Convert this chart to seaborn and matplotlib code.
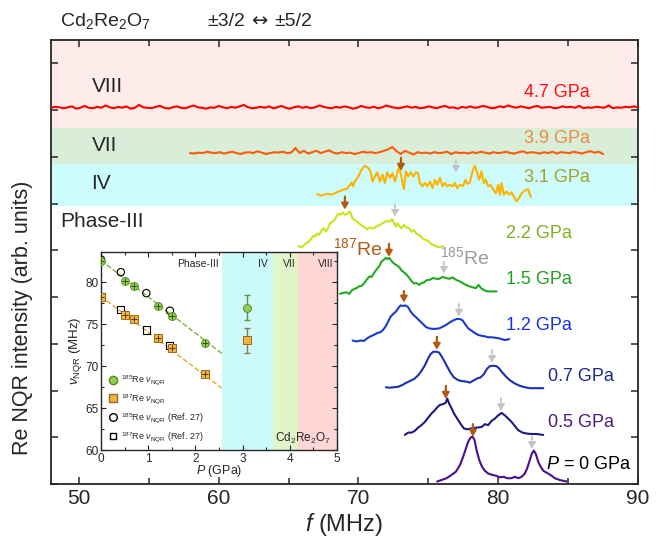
import numpy as np
import matplotlib
matplotlib.use("Agg")
import matplotlib.pyplot as plt
from matplotlib.lines import Line2D
from matplotlib.ticker import MultipleLocator
import seaborn as sns

# style first, fonts after (set_style resets font.family)
sns.set_style("ticks")
plt.rcParams["font.family"] = ["Liberation Sans", "DejaVu Sans"]
plt.rcParams["mathtext.fontset"] = "custom"
plt.rcParams["mathtext.rm"] = "Liberation Sans"
plt.rcParams["mathtext.it"] = "Liberation Sans:italic"

# ---------------- spectra (f in MHz, intensity relative to each baseline) ----------------
p47_f_range = (48.0, 90.0)
p47_int = [0.00, 0.02, 0.01, -0.01, 0.01, 0.03, -0.02, 0.00, 0.04, 0.00,
           -0.01, 0.02, 0.00, 0.05, 0.01, -0.01, 0.02, 0.00, 0.03, -0.02,
           0.00, 0.06, 0.01, 0.00, -0.01, 0.02, 0.04, 0.00, -0.02, 0.01,
           0.03, 0.00, -0.01, 0.02, 0.05, 0.01, 0.00, -0.02, 0.01, 0.00,
           0.04, 0.01, -0.01, 0.02, 0.00, 0.03, 0.06, 0.01, -0.01, 0.00,
           0.02, 0.00, 0.03, -0.01, 0.01, 0.04, 0.00, -0.02, 0.01, 0.03,
           0.00, 0.02, -0.01, 0.01, 0.05, 0.02, 0.00, -0.01, 0.02, 0.00,
           0.03, 0.01, -0.02, 0.00, 0.04, 0.01, 0.00, 0.02, -0.01, 0.01,
           0.05, 0.02, 0.00, -0.01, 0.01, 0.03, 0.00, 0.02, -0.01, 0.00,
           0.03, 0.01, -0.01, 0.02, 0.04, 0.00, 0.01, -0.02, 0.02, 0.00,
           0.03, 0.00, 0.01, 0.04, 0.02, -0.01, 0.00, 0.03, 0.01, 0.05,
           0.02, 0.00, 0.03, 0.01, -0.01, 0.02, 0.04, 0.00, 0.01, 0.02,
           -0.01, 0.00, 0.03, 0.01, 0.02, 0.00, 0.04, -0.01, 0.01, 0.00,
           0.02, 0.01, 0.00, 0.05, -0.01, 0.01, 0.00, 0.02, 0.01, 0.03, 0.01]

p39_f_range = (57.95, 87.5)
p39_int = [0.00, -0.01, 0.01, 0.00, 0.03, 0.01, 0.00, 0.02, -0.01, 0.01,
           0.03, 0.00, -0.02, 0.01, 0.02, 0.00, 0.04, 0.01, -0.02, 0.00,
           0.02, 0.01, 0.03, 0.00, 0.01, 0.11, 0.00, 0.05, -0.01, 0.02,
           0.05, 0.00, 0.03, 0.06, 0.01, -0.01, 0.02, 0.00, 0.01, -0.02,
           0.00, 0.03, 0.01, 0.02, 0.00, 0.02, 0.05, 0.08, 0.13, 0.04,
           -0.02, 0.05, 0.01, -0.03, 0.02, 0.00, 0.01, -0.01, 0.02, 0.00,
           0.01, 0.03, -0.02, 0.02, 0.00, 0.01, -0.01, 0.02, 0.00, 0.03,
           0.01, -0.01, 0.02, 0.00, 0.01, 0.03, 0.00, -0.01, 0.02, 0.04,
           0.00, 0.02, 0.01, -0.01, 0.02, 0.00, 0.03, -0.01, 0.02, 0.01,
           0.00, 0.03, 0.01, -0.01, 0.02, 0.04, 0.01, 0.03, -0.02]

p31_f = [67.05, 67.36, 67.72, 68.08, 68.43, 68.91, 69.15, 69.39, 69.51, 69.62,
         69.74, 69.98, 70.22, 70.46, 70.70, 70.86, 71.01, 71.17, 71.34, 71.53,
         71.72, 71.89, 72.06, 72.25, 72.44, 72.61, 72.77, 72.92, 73.08, 73.25,
         73.39, 73.56, 73.73, 73.92, 74.11, 74.27, 74.39, 74.58, 74.75, 74.92,
         75.11, 75.30, 75.47, 75.63, 75.82, 76.02, 76.18, 76.35, 76.54, 76.73,
         76.90, 77.06, 77.25, 77.49, 77.66, 77.80, 77.97, 78.16, 78.33, 78.45,
         78.64, 78.80, 78.97, 79.11, 79.28, 79.45, 79.64, 79.83, 80.00, 80.12,
         80.24, 80.40, 80.59, 80.78, 80.95, 81.12, 81.31, 81.50, 81.67, 81.90,
         82.14, 82.33]
p31_int = [-0.01, -0.04, 0.00, -0.02, 0.03, 0.09, 0.10, 0.19, 0.24, 0.16,
           0.26, 0.37, 0.51, 0.60, 0.55, 0.48, 0.26, 0.37, 0.46, 0.26,
           0.41, 0.23, 0.46, 0.34, 0.44, 0.26, 0.44, 0.59, 0.34, 0.10,
           0.48, 0.37, 0.46, 0.37, 0.46, 0.44, 0.23, 0.16, 0.23, 0.16,
           0.26, 0.12, 0.30, 0.19, 0.34, 0.16, 0.23, 0.16, 0.19, 0.16,
           0.23, 0.12, 0.19, 0.17, 0.30, 0.21, 0.24, 0.48, 0.60, 0.48,
           0.30, 0.48, 0.23, 0.30, 0.16, 0.19, 0.09, 0.01, 0.19, -0.02,
           0.23, -0.02, 0.05, -0.02, 0.03, -0.06, -0.16, -0.09, 0.01, 0.07,
           0.10, -0.07]

p22_f = [65.69, 65.93, 66.17, 66.41, 66.65, 66.76, 66.88, 67.05, 67.19, 67.36,
         67.53, 67.67, 67.84, 67.96, 68.15, 68.31, 68.43, 68.55, 68.72, 68.86,
         69.03, 69.20, 69.39, 69.58, 69.74, 69.91, 70.10, 70.29, 70.46, 70.63,
         70.82, 71.01, 71.18, 71.34, 71.53, 71.72, 71.89, 72.06, 72.25, 72.39,
         72.53, 72.68, 72.77, 72.92, 73.08, 73.25, 73.44, 73.63, 73.80, 73.97,
         74.16, 74.35, 74.51, 74.68, 74.87, 75.06, 75.23, 75.40, 75.59, 75.82, 76.06]
p22_int = [0.02, -0.01, 0.06, 0.11, 0.19, 0.24, 0.22, 0.29, 0.26, 0.36,
           0.40, 0.33, 0.42, 0.51, 0.54, 0.59, 0.66, 0.71, 0.69, 0.74,
           0.69, 0.71, 0.76, 0.61, 0.58, 0.54, 0.49, 0.45, 0.42, 0.38,
           0.42, 0.40, 0.42, 0.45, 0.47, 0.51, 0.54, 0.56, 0.54, 0.60,
           0.52, 0.44, 0.51, 0.45, 0.40, 0.47, 0.42, 0.40, 0.33, 0.36,
           0.28, 0.26, 0.21, 0.16, 0.15, 0.11, 0.06, 0.04, 0.01, -0.01, 0.02]

p15_f = [68.67, 68.91, 69.15, 69.34, 69.51, 69.67, 69.86, 70.05, 70.22, 70.39,
         70.58, 70.77, 70.94, 71.10, 71.29, 71.49, 71.65, 71.82, 71.96, 72.06,
         72.20, 72.37, 72.53, 72.73, 72.92, 73.08, 73.25, 73.44, 73.63, 73.80,
         73.97, 74.16, 74.35, 74.51, 74.68, 74.87, 75.11, 75.35, 75.54, 75.78,
         76.02, 76.25, 76.49, 76.73, 76.97, 77.21, 77.45, 77.68, 77.92, 78.16,
         78.40, 78.59, 78.78, 79.02, 79.28, 79.59, 79.88]
p15_int = [-0.03, -0.01, 0.00, -0.03, 0.04, 0.07, 0.09, 0.13, 0.14, 0.19,
           0.27, 0.34, 0.33, 0.41, 0.49, 0.56, 0.66, 0.70, 0.74, 0.71,
           0.74, 0.67, 0.62, 0.58, 0.54, 0.47, 0.43, 0.38, 0.31, 0.24,
           0.19, 0.20, 0.16, 0.20, 0.21, 0.26, 0.27, 0.31, 0.29, 0.29,
           0.33, 0.31, 0.29, 0.32, 0.27, 0.24, 0.20, 0.16, 0.13, 0.11,
           0.09, 0.16, 0.09, 0.04, 0.02, 0.02, 0.02]

p12_f = [69.58, 69.86, 70.15, 70.39, 70.63, 70.87, 71.10, 71.34, 71.58, 71.77,
         71.96, 72.13, 72.30, 72.49, 72.68, 72.84, 73.01, 73.20, 73.39, 73.56,
         73.73, 73.92, 74.11, 74.35, 74.59, 74.82, 75.06, 75.30, 75.54, 75.78,
         76.06, 76.30, 76.54, 76.78, 77.02, 77.26, 77.45, 77.61, 77.85, 78.09,
         78.33, 78.57, 78.81, 79.04, 79.28, 79.52, 79.76, 80.00, 80.24, 80.47, 80.78]
p12_int = [0.00, -0.02, 0.00, -0.01, 0.05, 0.09, 0.12, 0.16, 0.18, 0.23,
           0.31, 0.41, 0.51, 0.57, 0.62, 0.69, 0.75, 0.74, 0.75, 0.71,
           0.62, 0.55, 0.50, 0.43, 0.36, 0.29, 0.26, 0.25, 0.25, 0.26,
           0.30, 0.34, 0.39, 0.43, 0.46, 0.46, 0.43, 0.36, 0.26, 0.21,
           0.16, 0.12, 0.10, 0.09, 0.07, 0.07, 0.06, 0.05, 0.03, 0.01, 0.03]

p07_f = [71.96, 72.25, 72.53, 72.84, 73.15, 73.44, 73.73, 74.04, 74.28, 74.51,
         74.75, 74.99, 75.16, 75.35, 75.59, 75.78, 75.97, 76.16, 76.35, 76.59,
         76.83, 77.14, 77.45, 77.73, 77.97, 78.21, 78.50, 78.73, 78.97, 79.21,
         79.40, 79.64, 79.88, 80.07, 80.31, 80.55, 80.83, 81.19, 81.55, 81.90,
         82.26, 82.62, 82.93, 83.22]
p07_int = [0.01, 0.00, 0.01, 0.02, 0.06, 0.11, 0.15, 0.20, 0.27, 0.36,
           0.48, 0.63, 0.72, 0.77, 0.77, 0.75, 0.66, 0.56, 0.45, 0.32,
           0.22, 0.16, 0.14, 0.13, 0.11, 0.15, 0.20, 0.22, 0.29, 0.41,
           0.46, 0.47, 0.46, 0.41, 0.32, 0.24, 0.16, 0.09, 0.04, 0.01,
           -0.01, -0.01, -0.01, -0.01]

p05_f = [73.32, 73.56, 73.80, 74.04, 74.28, 74.51, 74.75, 74.99, 75.23, 75.47,
         75.63, 75.82, 76.06, 76.25, 76.35, 76.49, 76.66, 76.83, 77.02, 77.21,
         77.37, 77.54, 77.78, 78.09, 78.33, 78.57, 78.81, 79.04, 79.28, 79.52,
         79.76, 80.00, 80.24, 80.47, 80.71, 80.95, 81.19, 81.43, 81.74, 82.02,
         82.38, 82.74, 83.22]
p05_int = [-0.01, 0.04, 0.04, 0.08, 0.15, 0.20, 0.27, 0.36, 0.45, 0.52,
           0.58, 0.63, 0.65, 0.68, 0.77, 0.66, 0.56, 0.45, 0.36, 0.27,
           0.20, 0.13, 0.11, 0.13, 0.14, 0.15, 0.16, 0.22, 0.20, 0.29,
           0.34, 0.41, 0.46, 0.41, 0.34, 0.27, 0.18, 0.09, 0.04, 0.02,
           0.01, 0.01, -0.01]

p00_f = [75.63, 75.94, 76.30, 76.66, 76.97, 77.26, 77.49, 77.68, 77.85, 78.02,
         78.16, 78.30, 78.45, 78.64, 78.83, 79.04, 79.28, 79.59, 79.88, 80.12,
         80.40, 80.64, 80.95, 81.19, 81.43, 81.67, 81.90, 82.07, 82.26, 82.41,
         82.55, 82.69, 82.86, 83.03, 83.22, 83.45, 83.74, 84.05, 84.41, 84.89]
p00_int = [-0.01, 0.02, 0.06, 0.13, 0.20, 0.34, 0.52, 0.69, 0.84, 0.93,
           0.95, 0.88, 0.66, 0.45, 0.31, 0.22, 0.16, 0.13, 0.11, 0.08,
           0.09, 0.06, 0.06, 0.09, 0.06, 0.09, 0.16, 0.27, 0.45, 0.59,
           0.65, 0.58, 0.41, 0.31, 0.22, 0.18, 0.13, 0.06, 0.02, -0.01]

# spectrum offsets / colours / labels (top to bottom)
baselines = {"4.7": 8.05, "3.9": 7.08, "3.1": 6.21, "2.2": 5.07, "1.5": 4.10,
             "1.2": 3.07, "0.7": 2.06, "0.5": 1.06, "0": 0.064}
line_colors = {"4.7": "#ff0000", "3.9": "#ff5a0a", "3.1": "#ffb300", "2.2": "#c4e61c",
               "1.5": "#22aa22", "1.2": "#1a3acc", "0.7": "#1a30b0", "0.5": "#1c1c80",
               "0": "#4b0f8c"}
label_text = {"4.7": "4.7 GPa", "3.9": "3.9 GPa", "3.1": "3.1 GPa", "2.2": "2.2 GPa",
              "1.5": "1.5 GPa", "1.2": "1.2 GPa", "0.7": "0.7 GPa", "0.5": "0.5 GPa",
              "0": "$P$ = 0 GPa"}
label_colors = {"4.7": "#ff1010", "3.9": "#f08a40", "3.1": "#a8a020", "2.2": "#80b020",
                "1.5": "#20a020", "1.2": "#1a2ee6", "0.7": "#1a2a90", "0.5": "#4b1a7a",
                "0": "black"}
label_pos = {"4.7": (84.2, 8.37), "3.9": (84.2, 7.39), "3.1": (84.2, 6.55),
             "2.2": (82.9, 5.35), "1.5": (82.9, 4.37), "1.2": (82.9, 3.40),
             "0.7": (85.9, 2.31), "0.5": (85.9, 1.31), "0": (86.5, 0.41)}

# peak markers: 187Re (brown) and 185Re (grey), f positions and arrow top/tip heights
arrow_keys = ["3.1", "2.2", "1.5", "1.2", "0.7", "0.5", "0"]
re187_f = [73.04, 69.03, 72.18, 73.25, 75.61, 76.25, 78.19]
re187_y = [(6.98, 6.70), (6.15, 5.87), (5.14, 4.86), (4.13, 3.88), (3.15, 2.87), (2.10, 1.82), (1.28, 1.01)]
re185_f = [76.97, 72.61, 76.11, 77.18, 79.55, 80.19, 82.41]
re185_y = [(6.92, 6.66), (5.97, 5.72), (4.75, 4.50), (3.85, 3.58), (2.87, 2.59), (1.84, 1.56), (1.01, 0.75)]

# ---------------- inset data ----------------
P185 = [0.0, 0.5, 0.7, 1.2, 1.5, 2.2]
nu185 = [82.5, 80.2, 79.6, 77.2, 76.0, 72.8]
P187 = [0.0, 0.5, 0.7, 1.2, 1.5, 2.2]
nu187 = [78.2, 76.1, 75.6, 73.35, 72.2, 69.1]
P_iv = 3.1
nu185_iv, err185_iv = 76.95, 1.5
nu187_iv, err187_iv = 73.07, 1.5
P_ref = [0.0, 0.42, 0.96, 1.46]
nu185_ref = [82.7, 81.2, 78.7, 76.6]
nu187_ref = [78.3, 76.7, 74.3, 72.5]
fit185 = ([0.0, 2.56], [82.6, 71.5])
fit187 = ([0.0, 2.55], [78.3, 67.4])
phase_bounds = [2.56, 3.64, 4.17, 5.0]

# ---------------- figure ----------------
fig = plt.figure(figsize=(6.63, 5.44), dpi=100)
ax = fig.add_axes([51 / 663, 60 / 544, 587 / 663, 444 / 544])

ax.axhspan(7.62, 9.6, color="#fdecea", lw=0, zorder=0)
ax.axhspan(6.85, 7.62, color="#d9eed8", lw=0, zorder=0)
ax.axhspan(5.95, 6.85, color="#ccfcfc", lw=0, zorder=0)

spectra = {
    "4.7": (np.linspace(*p47_f_range, len(p47_int)), p47_int),
    "3.9": (np.linspace(*p39_f_range, len(p39_int)), p39_int),
    "3.1": (p31_f, p31_int),
    "2.2": (p22_f, p22_int),
    "1.5": (p15_f, p15_int),
    "1.2": (p12_f, p12_int),
    "0.7": (p07_f, p07_int),
    "0.5": (p05_f, p05_int),
    "0": (p00_f, p00_int),
}
for key, (f, inten) in spectra.items():
    y = baselines[key] + np.array(inten)
    sns.lineplot(x=np.asarray(f), y=y, ax=ax, color=line_colors[key], lw=1.5,
                 estimator=None, sort=False, zorder=3)
    lx, ly = label_pos[key]
    ax.text(lx, ly, label_text[key], color=label_colors[key], fontsize=13,
            ha="center", va="center")

for i, key in enumerate(arrow_keys):
    y0, y1 = re187_y[i]
    ax.annotate("", xy=(re187_f[i], y1), xytext=(re187_f[i], y0),
                arrowprops=dict(arrowstyle="-|>,head_width=0.2,head_length=0.35",
                                color="#b35a10", lw=1.6, shrinkA=0, shrinkB=0),
                zorder=5)
    y0, y1 = re185_y[i]
    ax.annotate("", xy=(re185_f[i], y1), xytext=(re185_f[i], y0),
                arrowprops=dict(arrowstyle="-|>,head_width=0.2,head_length=0.35",
                                color="#c4c4c4", lw=1.4, ls=(0, (1.5, 1)),
                                shrinkA=0, shrinkB=0),
                zorder=5)

ax.text(69.96, 5.05, r"$^{187}$Re", color="#b35a10", fontsize=14, ha="center", va="center")
ax.text(77.61, 4.86, r"$^{185}$Re", color="#9a9a9a", fontsize=14, ha="center", va="center")

ax.text(50.9, 8.50, "VIII", fontsize=15, va="center")
ax.text(50.9, 7.24, "VII", fontsize=15, va="center")
ax.text(50.9, 6.42, "IV", fontsize=15, va="center")
ax.text(48.65, 5.61, "Phase-III", fontsize=15, va="center")

ax.set_xlim(48, 90)
ax.set_ylim(0, 9.5)
ax.set_xticks([50, 60, 70, 80, 90])
ax.xaxis.set_minor_locator(MultipleLocator(5))
ax.set_yticks(range(10))
ax.set_yticklabels([])
ax.tick_params(which="both", direction="in", top=True, right=True, width=1.1, labelsize=15)
ax.tick_params(which="major", length=5)
ax.tick_params(which="minor", length=4)
for s in ax.spines.values():
    s.set_linewidth(1.3)
ax.set_xlabel(r"$f$ (MHz)", fontsize=17, labelpad=2)
ax.set_ylabel("Re NQR intensity (arb. units)", fontsize=15.5)
ax.yaxis.set_label_coords(-0.031, 0.375)

fig.text(60 / 663, 1 - 21 / 544, r"Cd$_2$Re$_2$O$_7$", fontsize=14, va="center")
fig.text(207 / 663, 1 - 21 / 544, "±3/2", fontsize=14, va="center")
fig.text(259 / 663, 1 - 21 / 544, "↔", fontsize=14, va="center", ha="center",
         family=["DejaVu Sans"])
fig.text(274 / 663, 1 - 21 / 544, "±5/2", fontsize=14, va="center")

# ---------------- inset ----------------
axin = fig.add_axes([101 / 663, 94 / 544, 236 / 663, 198 / 544])
axin.set_facecolor("white")
axin.axvspan(phase_bounds[0], phase_bounds[1], color="#ccfafa", lw=0, zorder=0)
axin.axvspan(phase_bounds[1], phase_bounds[2], color="#e2f5c8", lw=0, zorder=0)
axin.axvspan(phase_bounds[2], phase_bounds[3], color="#ffd6d6", lw=0, zorder=0)

sns.lineplot(x=fit185[0], y=fit185[1], ax=axin, color="#7ab43c", lw=1.0, ls="--")
sns.lineplot(x=fit187[0], y=fit187[1], ax=axin, color="#e8a630", lw=1.0, ls="--")

axin.errorbar([P_iv], [nu185_iv], yerr=[err185_iv], fmt="none", ecolor="#6a8a4a",
              elinewidth=1.0, capsize=2.5, zorder=3)
axin.errorbar([P_iv], [nu187_iv], yerr=[err187_iv], fmt="none", ecolor="#8a7a50",
              elinewidth=1.0, capsize=2.5, zorder=3)

sns.scatterplot(x=P_ref, y=nu185_ref, ax=axin, marker="o", s=28, facecolor="none",
                edgecolor="black", linewidth=0.8, zorder=4)
sns.scatterplot(x=P_ref, y=nu187_ref, ax=axin, marker="s", s=26, facecolor="none",
                edgecolor="black", linewidth=0.8, zorder=4)
sns.scatterplot(x=P185 + [P_iv], y=nu185 + [nu185_iv], ax=axin, marker="o", s=32,
                color="#8fd14f", edgecolor="#5a8a2a", linewidth=0.7, zorder=5)
sns.scatterplot(x=P187 + [P_iv], y=nu187 + [nu187_iv], ax=axin, marker="s", s=30,
                color="#f0b542", edgecolor="#9a6a1a", linewidth=0.7, zorder=5)
axin.scatter(P185, nu185, marker="+", s=22, color="#2e5a10", linewidths=0.7, zorder=6)
axin.scatter(P187, nu187, marker="+", s=20, color="#5a3a08", linewidths=0.7, zorder=6)

axin.text(2.49, 82.2, "Phase-III", fontsize=7.5, ha="right", va="center")
axin.text(3.43, 82.2, "IV", fontsize=7.5, ha="center", va="center")
axin.text(3.98, 82.2, "VII", fontsize=7.5, ha="center", va="center")
axin.text(4.77, 82.2, "VIII", fontsize=7.5, ha="center", va="center")
axin.text(4.27, 61.4, r"Cd$_2$Re$_2$O$_7$", fontsize=8.5, ha="center", va="center")

axin.set_xlim(0, 5)
axin.set_ylim(60, 83.6)
axin.set_xticks(range(6))
axin.set_yticks([60, 65, 70, 75, 80])
axin.yaxis.set_minor_locator(MultipleLocator(2.5))
axin.xaxis.set_minor_locator(MultipleLocator(0.5))
axin.tick_params(which="both", direction="in", top=True, right=True, width=0.8,
                 labelsize=8.5, pad=2)
axin.tick_params(which="major", length=3.5)
axin.tick_params(which="minor", length=2)
for s in axin.spines.values():
    s.set_linewidth(1.0)
axin.set_xlabel(r"$P$ (GPa)", fontsize=9, labelpad=-1)
axin.set_ylabel(r"$\nu_{\rm NQR}$ (MHz)", fontsize=9.5, labelpad=1)

handles = [
    Line2D([], [], ls="none", marker="o", ms=6, mfc="#8fd14f", mec="#5a8a2a"),
    Line2D([], [], ls="none", marker="s", ms=5.5, mfc="#f0b542", mec="#9a6a1a"),
    Line2D([], [], ls="none", marker="o", ms=5.5, mfc="none", mec="black"),
    Line2D([], [], ls="none", marker="s", ms=5, mfc="none", mec="black"),
]
labels = [r"$^{185}$Re $\nu_{\rm NQR}$", r"$^{187}$Re $\nu_{\rm NQR}$",
          r"$^{185}$Re $\nu_{\rm NQR}$ (Ref. 27)", r"$^{187}$Re $\nu_{\rm NQR}$ (Ref. 27)"]
axin.legend(handles, labels, loc="lower left", frameon=False, fontsize=6.5,
            handletextpad=0.3, labelspacing=0.55, borderaxespad=0.3, handlelength=1.2)

fig.savefig("out.png", dpi=100)
plt.close(fig)
